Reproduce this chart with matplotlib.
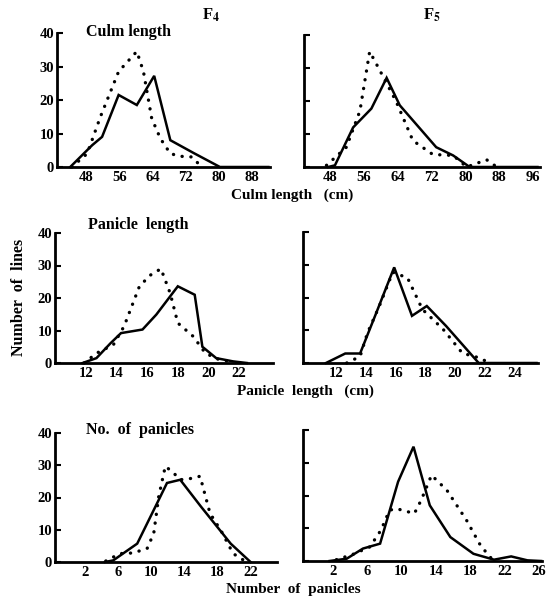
import matplotlib.pyplot as plt

plt.rcParams['font.family'] = ['Liberation Serif', 'DejaVu Serif']
plt.rcParams['font.weight'] = 'bold'
plt.rcParams['mathtext.fontset'] = 'stix'

# F4 / F5 distributions (solid = one population, dotted = other)
culm_f4_solid_x = [44.1, 49.4, 51.8, 55.8, 60.2, 64.4, 68.3, 73.9, 80.3, 92]
culm_f4_solid_y = [0, 6.5, 9, 21.5, 18.5, 27.2, 8, 4.2, 0, 0]
culm_f4_dot_x = [44.5, 48.2, 51.4, 55.8, 60.2, 61.8, 63.8, 65.9, 68.3, 70.7, 73.5, 75.5]
culm_f4_dot_y = [0, 4, 15, 28.5, 34.5, 28.5, 14.5, 8.5, 4, 3.2, 3, 0.5]

culm_f5_solid_x = [47.6, 49.2, 53.5, 57.8, 61.4, 64.5, 73.1, 77.1, 81, 97]
culm_f5_solid_y = [0, 0.5, 12, 17.7, 27, 18.7, 6, 3.5, 0, 0]
culm_f5_dot_x = [47.2, 51.9, 55.1, 57.4, 59.7, 63.6, 67.6, 72.3, 77.1, 80.3, 85, 87.4]
culm_f5_dot_y = [0.5, 6, 17, 35, 29.5, 20, 8, 3.8, 3.5, 0, 2.2, 0]

pan_f4_solid_x = [11.8, 12.7, 13.6, 14.3, 15.7, 16.6, 18.0, 19.1, 19.6, 20.5, 21.6, 22.5]
pan_f4_solid_y = [0, 1.5, 6, 9.2, 10.3, 14.9, 23.6, 21, 5, 1.5, 0.5, 0]
pan_f4_dot_x = [11.9, 12.7, 13.8, 14.5, 15.5, 16.2, 16.9, 17.5, 18.0, 19.0, 19.8, 20.7, 21.4]
pan_f4_dot_y = [0, 3, 5.6, 11.3, 23.6, 27, 29, 21.5, 12.3, 8.2, 3, 1, 0.5]

pan_f5_solid_x = [11.3, 12.6, 13.6, 14.7, 15.9, 17.1, 18.1, 19.4, 21.6, 25.5]
pan_f5_solid_y = [0, 2.9, 2.9, 15.4, 29.2, 14.4, 17.4, 11.3, 0, 0]
pan_f5_dot_x = [12.7, 13.6, 14.1, 14.9, 15.8, 16.8, 17.8, 19.2, 20.5, 21.7, 22.3]
pan_f5_dot_y = [0, 2, 9.2, 17.4, 27.7, 26, 16.4, 10.3, 3, 1.5, 0]

num_f4_solid_x = [4.4, 5.4, 8.3, 11.1, 11.9, 13.5, 16.0, 19.6, 22.0]
num_f4_solid_y = [0, 0.5, 5.7, 20.3, 24.5, 25.5, 17.2, 5.7, 0]
num_f4_dot_x = [4.5, 6.2, 7.8, 9.5, 10.3, 10.9, 11.7, 12.7, 13.5, 15.1, 15.9, 17.1, 18.5, 19.9, 21.2]
num_f4_dot_y = [0.3, 2.6, 2.8, 4.2, 8.9, 20.3, 29.7, 27.6, 25.5, 26, 26.6, 15.1, 9.4, 2.6, 0.5]

num_f5_solid_x = [1.6, 3.6, 5.5, 7.5, 9.6, 11.4, 13.3, 15.7, 18.4, 20.8, 22.8, 24.7, 26.3]
num_f5_solid_y = [0, 0.7, 3.8, 5.3, 24.2, 34.9, 17, 7.3, 2.2, 0.4, 1.4, 0.2, 0]
num_f5_dot_x = [2.4, 4.3, 6.3, 7.6, 8.6, 9.4, 11.5, 12.3, 13.5, 15.3, 17.6, 19.1, 20.3, 21.1]
num_f5_dot_y = [0.4, 2, 4.3, 9.4, 15.5, 16, 14.5, 18.6, 26.2, 21.6, 12.4, 5.3, 1.2, 0]

W, H = 559, 597
fig = plt.figure(figsize=(W / 100, H / 100), dpi=100)


def make_axes(l, t, r, b):
    return fig.add_axes([l / W, 1 - b / H, (r - l) / W, (b - t) / H])


def draw_panel(ax, sx, sy, dx, dy, xlim, xticks, ylabels):
    ax.plot(sx, sy, color='black', lw=1.8, solid_joinstyle='miter', clip_on=False)
    ax.plot(dx, dy, color='black', lw=2.4, linestyle=(0, (0.05, 2.6)),
            dash_capstyle='round', clip_on=False)
    ax.set_xlim(xlim)
    ax.set_ylim(0, 40)
    ax.set_xticks(xticks)
    ax.set_yticks([0, 10, 20, 30, 40])
    for s in ['top', 'right']:
        ax.spines[s].set_visible(False)
    for s in ['left', 'bottom']:
        ax.spines[s].set_linewidth(2)
    ax.tick_params(axis='x', length=0, pad=3, labelsize=10.5)
    ax.tick_params(axis='y', direction='in', length=4, width=1.5, pad=2, labelsize=10.5)
    if not ylabels:
        ax.set_yticklabels([])


ax1 = make_axes(57, 33, 270, 167)
draw_panel(ax1, culm_f4_solid_x, culm_f4_solid_y, culm_f4_dot_x, culm_f4_dot_y,
           (40.9, 92.4), [48, 56, 64, 72, 80, 88], True)
ax2 = make_axes(304, 35, 540, 167)
draw_panel(ax2, culm_f5_solid_x, culm_f5_solid_y, culm_f5_dot_x, culm_f5_dot_y,
           (41.9, 97.6), [48, 56, 64, 72, 80, 88, 96], False)
ax3 = make_axes(55, 233, 273, 363)
draw_panel(ax3, pan_f4_solid_x, pan_f4_solid_y, pan_f4_dot_x, pan_f4_dot_y,
           (10.0, 24.2), [12, 14, 16, 18, 20, 22], True)
ax4 = make_axes(303, 232, 538, 363)
draw_panel(ax4, pan_f5_solid_x, pan_f5_solid_y, pan_f5_dot_x, pan_f5_dot_y,
           (9.75, 25.6), [12, 14, 16, 18, 20, 22, 24], False)
ax5 = make_axes(55, 433, 277, 562)
draw_panel(ax5, num_f4_solid_x, num_f4_solid_y, num_f4_dot_x, num_f4_dot_y,
           (-1.64, 25.2), [2, 6, 10, 14, 18, 22], True)
ax6 = make_axes(303, 430, 542, 561)
draw_panel(ax6, num_f5_solid_x, num_f5_solid_y, num_f5_dot_x, num_f5_dot_y,
           (-1.5, 26.4), [2, 6, 10, 14, 18, 22, 26], False)

# panel titles and labels
fig.text(211 / W, 1 - 15 / H, r'F$_\mathbf{4}$', fontsize=12, ha='center', va='center')
fig.text(432 / W, 1 - 15 / H, r'F$_\mathbf{5}$', fontsize=12, ha='center', va='center')
fig.text(128 / W, 1 - 32 / H, 'Culm length', fontsize=11.5, ha='center', va='center')
fig.text(138 / W, 1 - 225 / H, 'Panicle  length', fontsize=11.5, ha='center', va='center')
fig.text(140 / W, 1 - 430 / H, 'No.  of  panicles', fontsize=11.5, ha='center', va='center')
fig.text(292 / W, 1 - 195 / H, 'Culm length   (cm)', fontsize=11, ha='center', va='center')
fig.text(305 / W, 1 - 391 / H, 'Panicle  length   (cm)', fontsize=11, ha='center', va='center')
fig.text(293 / W, 1 - 589 / H, 'Number  of  panicles', fontsize=11, ha='center', va='center')
fig.text(19 / W, 1 - 297 / H, 'Number  of  lines', fontsize=11.5, ha='center', va='center',
         rotation=90)

fig.savefig('out.png', dpi=100)
